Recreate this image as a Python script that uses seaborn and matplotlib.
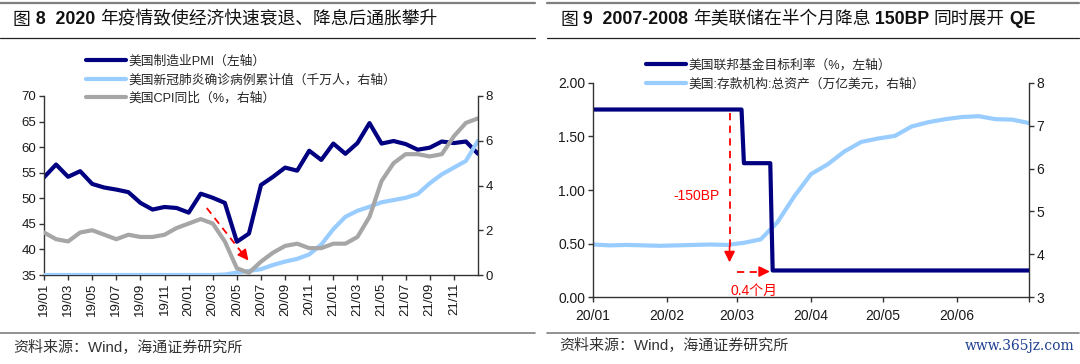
import numpy as np
import pandas as pd
import matplotlib
matplotlib.use("Agg")
import matplotlib.pyplot as plt
import matplotlib.ticker as mticker
from matplotlib.lines import Line2D
import seaborn as sns

# ===== Figure 8 data: monthly, Dec-2018 .. Dec-2021 =====
pmi = [54.1, 56.6, 54.2, 55.3, 52.8, 52.1, 51.7, 51.2, 49.1, 47.8, 48.3, 48.1, 47.2,
       50.9, 50.1, 49.1, 41.5, 43.1, 52.6, 54.2, 56.0, 55.4, 59.3, 57.5, 60.7,
       58.7, 60.8, 64.7, 60.7, 61.2, 60.6, 59.5, 59.9, 61.1, 60.8, 61.1, 58.7]
covid_cases = [0, 0, 0, 0, 0, 0, 0, 0, 0, 0, 0, 0, 0, 0,
               0.0, 0.02, 0.11, 0.18, 0.26, 0.45, 0.6, 0.72, 0.92, 1.36, 2.05,
               2.6, 2.87, 3.05, 3.25, 3.35, 3.45, 3.62, 4.1, 4.5, 4.8, 5.1, 6.0]
cpi_yoy = [1.9, 1.6, 1.5, 1.9, 2.0, 1.8, 1.6, 1.8, 1.7, 1.7, 1.8, 2.1, 2.3,
           2.5, 2.3, 1.5, 0.3, 0.1, 0.6, 1.0, 1.3, 1.4, 1.2, 1.2, 1.4,
           1.4, 1.7, 2.6, 4.2, 5.0, 5.4, 5.4, 5.3, 5.4, 6.2, 6.8, 7.0]
left_tick_labels = ["19/01", "19/03", "19/05", "19/07", "19/09", "19/11",
                    "20/01", "20/03", "20/05", "20/07", "20/09", "20/11",
                    "21/01", "21/03", "21/05", "21/07", "21/09", "21/11"]
left_legend = ["美国制造业PMI（左轴）", "美国新冠肺炎确诊病例累计值（千万人，右轴）", "美国CPI同比（%，右轴）"]

# ===== Figure 9 data =====
fed_dates = ["2020-01-01", "2020-03-03", "2020-03-04", "2020-03-15", "2020-03-16", "2020-07-01"]
fed_rate = [1.75, 1.75, 1.25, 1.25, 0.25, 0.25]
asset_dates = ["2020-01-01", "2020-01-08", "2020-01-15", "2020-01-22", "2020-01-29",
               "2020-02-05", "2020-02-12", "2020-02-19", "2020-02-26",
               "2020-03-04", "2020-03-11", "2020-03-18", "2020-03-25",
               "2020-04-01", "2020-04-08", "2020-04-15", "2020-04-22", "2020-04-29",
               "2020-05-06", "2020-05-13", "2020-05-20", "2020-05-27",
               "2020-06-03", "2020-06-10", "2020-06-17", "2020-06-24", "2020-07-01"]
bank_assets = [4.23, 4.21, 4.22, 4.21, 4.20, 4.21, 4.22, 4.23, 4.22,
               4.27, 4.35, 4.75, 5.35, 5.87, 6.10, 6.40, 6.62, 6.70,
               6.76, 6.98, 7.08, 7.15, 7.20, 7.22, 7.15, 7.14, 7.06]
right_tick_dates = ["2020-01-01", "2020-02-01", "2020-03-01", "2020-04-01", "2020-05-01", "2020-06-01"]
right_tick_labels = ["20/01", "20/02", "20/03", "20/04", "20/05", "20/06"]
right_legend = ["美国联邦基金目标利率（%，左轴）", "美国:存款机构:总资产（万亿美元，右轴）"]

sns.set_theme(style="ticks")
FAM = ["Liberation Sans", "Noto Sans CJK SC"]
plt.rcParams["font.family"] = FAM
plt.rcParams["axes.unicode_minus"] = False

W, H = 1080, 364
fig = plt.figure(figsize=(W / 100, H / 100), dpi=100)


def fx(px):
    return px / W


def fy(py):
    return 1 - py / H


NAVY = "#000080"
LBLUE = "#99CCFF"
GRAY = "#A6A6A6"
RED = "#FF0000"
AXC = "#333333"
TXT = "#1a1a1a"


def style_axes(ax, fs):
    ax.tick_params(axis="both", direction="out", length=3.5, width=1, color=AXC,
                   labelsize=fs, labelcolor=TXT, pad=2)
    for s in ax.spines.values():
        s.set_color(AXC)
        s.set_linewidth(1)
    ax.set_xlabel("")
    ax.set_ylabel("")
    ax.grid(False)
    ax.patch.set_alpha(0)


# ---------------- Left chart ----------------
axL = fig.add_axes([fx(44), fy(275), fx(478) - fx(44), fy(96) - fy(275)])
axL2 = axL.twinx()
df_left = pd.DataFrame({"pos": np.arange(len(pmi)), "pmi": pmi,
                        "covid": covid_cases, "cpi": cpi_yoy})
sns.lineplot(data=df_left, x="pos", y="pmi", ax=axL, color=NAVY, linewidth=3,
             legend=False, solid_joinstyle="round", solid_capstyle="round")
sns.lineplot(data=df_left, x="pos", y="covid", ax=axL2, color=LBLUE, linewidth=3,
             legend=False, solid_joinstyle="round", solid_capstyle="round")
sns.lineplot(data=df_left, x="pos", y="cpi", ax=axL2, color=GRAY, linewidth=3,
             legend=False, solid_joinstyle="round", solid_capstyle="round")
axL.set_xlim(0, len(pmi) - 1)
axL.set_ylim(35, 70)
axL.set_yticks(np.arange(35, 71, 5))
axL.set_xticks(np.arange(0, 2 * len(left_tick_labels), 2))
axL.set_xticklabels(left_tick_labels, rotation=90)
axL2.set_ylim(0, 8)
axL2.set_yticks(np.arange(0, 9, 2))
for a in (axL, axL2):
    style_axes(a, 9.5)
axL.spines["top"].set_visible(False)
axL.spines["right"].set_visible(False)
axL2.spines["top"].set_visible(False)
axL2.spines["left"].set_visible(False)
axL2.spines["bottom"].set_visible(False)

# red dashed arrow (left chart)
axL.plot([13.5, 16.6], [48.1, 38.8], color=RED, lw=1.3, ls=(0, (4, 3)))
axL.annotate("", xy=(17.1, 37.4), xytext=(16.3, 39.8),
             arrowprops=dict(arrowstyle="-|>", color=RED, lw=1.2, mutation_scale=16))

LEG_FS = 9.2
handles_L = [Line2D([], [], color=c, lw=3) for c in (NAVY, LBLUE, GRAY)]
fig.legend(handles_L, left_legend, loc="upper left",
           bbox_to_anchor=(fx(86), fy(55.5)), frameon=False, fontsize=LEG_FS,
           handlelength=3.1, handletextpad=0.2, labelspacing=0.48, borderpad=0,
           borderaxespad=0)

# ---------------- Right chart ----------------
axR = fig.add_axes([fx(593), fy(297.3), fx(1029) - fx(593), fy(82.7) - fy(297.3)])
axR2 = axR.twinx()
df_fed = pd.DataFrame({"date": pd.to_datetime(fed_dates), "rate": fed_rate})
df_ast = pd.DataFrame({"date": pd.to_datetime(asset_dates), "assets": bank_assets})
sns.lineplot(data=df_fed, x="date", y="rate", ax=axR, color=NAVY, linewidth=3,
             legend=False)
sns.lineplot(data=df_ast, x="date", y="assets", ax=axR2, color=LBLUE, linewidth=3,
             legend=False, solid_joinstyle="round")
axR.set_xlim(pd.Timestamp("2020-01-01"), pd.Timestamp("2020-07-01"))
axR.set_ylim(0, 2)
axR.set_yticks(np.arange(0, 2.01, 0.5))
axR.yaxis.set_major_formatter(mticker.FormatStrFormatter("%.2f"))
axR.set_xticks(list(pd.to_datetime(right_tick_dates)) + [pd.Timestamp("2020-07-01")])
axR.set_xticklabels(right_tick_labels + [""])
axR2.set_ylim(3, 8)
axR2.set_yticks(np.arange(3, 9, 1))
for a in (axR, axR2):
    style_axes(a, 10)
axR.tick_params(axis="x", pad=5)
axR.spines["top"].set_visible(False)
axR.spines["right"].set_visible(False)
axR2.spines["top"].set_visible(False)
axR2.spines["left"].set_visible(False)
axR2.spines["bottom"].set_visible(False)
axR.set_zorder(axR2.get_zorder() + 1)

# annotations (right chart)
d = pd.Timestamp
axR.plot([d("2020-02-27"), d("2020-02-27")], [1.72, 0.45], color=RED, lw=1.3, ls=(0, (4, 3)))
axR.annotate("", xy=(d("2020-02-27"), 0.30), xytext=(d("2020-02-27"), 0.50),
             arrowprops=dict(arrowstyle="-|>", color=RED, lw=1.2, mutation_scale=16))
axR.plot([d("2020-03-01"), d("2020-03-11")], [0.24, 0.24], color=RED, lw=1.3, ls=(0, (4, 3)))
axR.annotate("", xy=(d("2020-03-16"), 0.24), xytext=(d("2020-03-10"), 0.24),
             arrowprops=dict(arrowstyle="-|>", color=RED, lw=1.2, mutation_scale=16))
axR.text(d("2020-02-13"), 0.94, "-150BP", color=RED, fontsize=10, ha="center", va="center")
axR.text(d("2020-03-08"), 0.06, "0.4个月", color=RED, fontsize=10, ha="center", va="center")

handles_R = [Line2D([], [], color=c, lw=3) for c in (NAVY, LBLUE)]
fig.legend(handles_R, right_legend, loc="upper left",
           bbox_to_anchor=(fx(646), fy(59)), frameon=False, fontsize=LEG_FS,
           handlelength=3.1, handletextpad=0.2, labelspacing=0.52, borderpad=0,
           borderaxespad=0)

# ---------------- Frame decorations ----------------
for x0, x1 in ((0, 535), (547, 1079)):
    fig.add_artist(Line2D([fx(x0), fx(x1)], [fy(3), fy(3)], color="#7f7f7f", lw=1.6))
    fig.add_artist(Line2D([fx(x0), fx(x1)], [fy(38), fy(38)], color="#222222", lw=0.9))
    fig.add_artist(Line2D([fx(x0), fx(x1)], [fy(332.5), fy(332.5)], color="#7f7f7f", lw=1.2))

renderer = fig.canvas.get_renderer()


def draw_title(x_px, y_px, parts, fs=12.8):
    x = fx(x_px)
    for txt, wt in parts:
        t = fig.text(x, fy(y_px), txt, fontsize=fs, fontweight=wt, ha="left",
                     va="center", color="#111111")
        bb = t.get_window_extent(renderer=renderer)
        x += bb.width / W


draw_title(13, 20, [("图", "normal"), (" 8  2020 ", "bold"),
                    ("年疫情致使经济快速衰退、降息后通胀攀升", "normal")])
draw_title(560, 20, [("图", "normal"), (" 9  2007-2008 ", "bold"),
                     ("年美联储在半个月降息", "normal"), (" 150BP ", "bold"),
                     ("同时展开", "normal"), (" QE", "bold")])

fig.text(fx(13), fy(347.5), "资料来源：Wind，海通证券研究所", fontsize=10.8, color="#333333",
         ha="left", va="center")
fig.text(fx(559), fy(346), "资料来源：Wind，海通证券研究所", fontsize=10.8, color="#333333",
         ha="left", va="center")
fig.text(fx(1075), fy(346), "www.365jz.com", fontsize=10, color="#1f3f8f",
         ha="right", va="center", family="DejaVu Serif")

fig.savefig("out.png", dpi=100)
